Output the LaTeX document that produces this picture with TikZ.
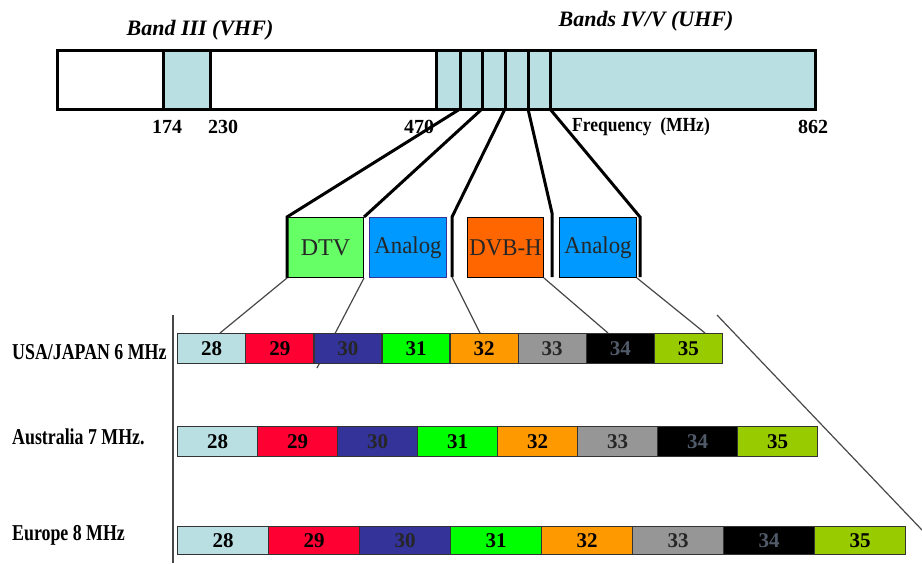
\documentclass[tikz,border=0pt]{standalone}
\usepackage{fontspec}
\setmainfont{Liberation Serif}
\definecolor{lb}{RGB}{185,223,226}
\definecolor{dtvg}{RGB}{102,255,102}
\definecolor{anab}{RGB}{0,153,255}
\definecolor{anabd}{RGB}{51,51,153}
\definecolor{dvbo}{RGB}{255,102,0}
\definecolor{cRed}{RGB}{255,0,51}
\definecolor{cNavy}{RGB}{51,51,153}
\definecolor{cGreen}{RGB}{0,255,0}
\definecolor{cOrange}{RGB}{255,153,0}
\definecolor{cGray}{RGB}{150,150,150}
\definecolor{cYG}{RGB}{153,204,0}
\definecolor{thinc}{RGB}{72,72,72}
\definecolor{gray34}{RGB}{80,90,105}
\begin{document}
\begin{tikzpicture}[x=1pt,y=-1pt,
 barline/.style={line width=3pt},
 fan/.style={line width=3pt, line join=miter},
 thinline/.style={draw=thinc, line width=1.2pt},
 bandbox/.style={draw, line width=1pt, minimum height=60pt, inner sep=0pt, anchor=north west, font=\fontsize{24}{27}\selectfont, text=black!85},
 cell/.style={draw=black!80, line width=1.3pt, inner sep=0pt, anchor=north west, font=\fontsize{21}{24}\selectfont\bfseries},
 rowlab/.style={anchor=west, inner sep=0pt, font=\fontsize{21}{24}\selectfont\bfseries},
 ticklab/.style={inner sep=0pt, font=\fontsize{20}{24}\selectfont\bfseries},
 bandlab/.style={inner sep=0pt, font=\fontsize{22}{26}\selectfont\bfseries\itshape}
]
\useasboundingbox[fill=white] (0,0) rectangle (922,563);

% top frequency bar
\fill[white] (57,50) rectangle (815,109);
\fill[lb] (163,50) rectangle (210,109);
\fill[lb] (436,50) rectangle (815,109);
\foreach \x in {163,210,436,460,482,505,528,550} \draw[barline] (\x,50) -- (\x,109);
\draw[barline] (57,50) rectangle (815,109);

\coordinate (f1) at (460,109);
\coordinate (f2) at (482,109);
\coordinate (f3) at (505,109);
\coordinate (f4) at (528,109);
\coordinate (f5) at (550,109);

\node[bandlab] (bIII) at (200,30) {Band III (VHF)};
\node[bandlab] (bIV) at (646,21) {Bands IV/V (UHF)};

\node[ticklab] (l174) at (167,127) {174};
\node[ticklab] (l230) at (223,127) {230};
\node[ticklab] (l470) at (419,127) {470};
\node[ticklab] (lfreq) at (641,127) {\scalebox{0.875}[1]{Frequency\ \ (MHz)}};
\node[ticklab] (l862) at (813,127) {862};

% service boxes
\node[bandbox, fill=dtvg, minimum width=76pt] (dtv) at (287,217) {DTV};
\node[bandbox, fill=anab, draw=anabd, minimum width=77pt] (an1) at (369,217) {\scalebox{0.95}[1]{Analog}};
\node[bandbox, fill=dvbo, minimum width=76pt] (dvb) at (467,217) {\scalebox{0.95}[1]{DVB-H}};
\node[bandbox, fill=anab, minimum width=77pt] (an2) at (559,217) {\scalebox{0.95}[1]{Analog}};

\coordinate (k3a) at (452,217);
\coordinate (k3b) at (452,277);
\coordinate (k4a) at (552,213);
\coordinate (k4b) at (552,277);
\coordinate (k5a) at (640,217);
\coordinate (k5b) at (640,277);

\draw[fan] (f1) -- (dtv.north west) -- (dtv.south west);
\draw[fan] (f2) -- (dtv.north east);
\draw[fan] (f3) -- (k3a) -- (k3b);
\draw[fan] (f4) -- (k4a) -- (k4b);
\draw[fan] (f5) -- (k5a) -- (k5b);

% thin connectors
\coordinate (e1) at (220,333);
\coordinate (e2) at (317,368);
\coordinate (e3) at (480,333);
\coordinate (e4) at (608,333);
\coordinate (e5) at (705,333);
\coordinate (g1) at (717,315);
\coordinate (g2) at (922,530);
\coordinate (v1) at (173,315);
\coordinate (v2) at (173,563);
\draw[thinline] (dtv.south west) -- (e1);
\draw[thinline] (dtv.south east) -- (e2);
\draw[thinline] (k3b) -- (e3);
\draw[thinline] (dvb.south east) -- (e4);
\draw[thinline] (an2.south east) -- (e5);
\draw[thinline] (g1) -- (g2);
\draw[thinline, line width=1.5pt] (v1) -- (v2);

% channel rows
\foreach \n/\c/\t [count=\i from 0] in {28/lb/black,29/cRed/black,30/cNavy/black!85,31/cGreen/black,32/cOrange/black,33/cGray/black!85,34/black/gray34,35/cYG/black}{
 \node[cell, fill=\c, text=\t, minimum width=68.1pt, minimum height=30pt] (u\n) at ({177+\i*68.1},333) {\n};
 \node[cell, fill=\c, text=\t, minimum width=80pt, minimum height=30pt] (a\n) at ({177+\i*80},426) {\n};
 \node[cell, fill=\c, text=\t, minimum width=91pt, minimum height=28pt] (e\n) at ({177+\i*91},526) {\n};
}

\node[rowlab] (rusa) at (12,352) {\scalebox{0.85}[1.08]{USA/JAPAN 6 MHz}};
\node[rowlab] (raus) at (12,437) {\scalebox{0.85}[1.08]{Australia 7 MHz.}};
\node[rowlab] (reur) at (12,535) {\scalebox{0.85}[1.08]{Europe 8 MHz}};
\end{tikzpicture}
\end{document}
